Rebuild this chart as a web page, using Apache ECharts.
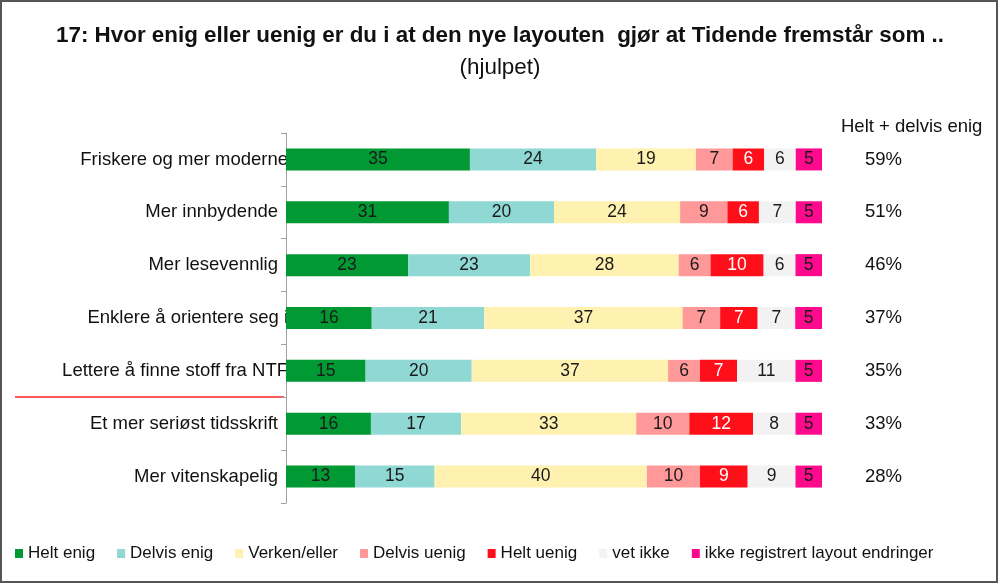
<!DOCTYPE html>
<html><head><meta charset="utf-8">
<script src="https://cdn.jsdelivr.net/npm/echarts@6/dist/echarts.min.js"></script>
<style>html,body{margin:0;padding:0;background:#fff}#c{width:1000px;height:585px}</style>
</head><body><div id="c"></div>
<script>
var categories = ['Friskere og mer moderne','Mer innbydende','Mer lesevennlig','Enklere å orientere seg i','Lettere å finne stoff fra NTF','Et mer seriøst tidsskrift','Mer vitenskapelig'];
var seriesNames = ['Helt enig','Delvis enig','Verken/eller','Delvis uenig','Helt uenig','vet ikke','ikke registrert layout endringer'];
var heltEnig    = [35,31,23,16,15,16,13];
var delvisEnig  = [24,20,23,21,20,17,15];
var verkenEller = [19,24,28,37,37,33,40];
var delvisUenig = [7,9,6,7,6,10,10];
var heltUenig   = [6,6,10,7,7,12,9];
var vetIkke     = [6,7,6,7,11,8,9];
var ikkeReg     = [5,5,5,5,5,5,5];
var heltDelvisEnig = ['59%','51%','46%','37%','35%','33%','28%'];
var colors = ['#009933','#8fd8d4','#fff2b0','#ff9999','#ff0f1a','#f2f2f2','#ff0a8c'];
var labelColors = ['#1a1a1a','#1a1a1a','#1a1a1a','#1a1a1a','#ffffff','#1a1a1a','#1a1a1a'];
var all = [heltEnig,delvisEnig,verkenEller,delvisUenig,heltUenig,vetIkke,ikkeReg];
var sums = categories.map(function(c,i){var s=0;all.forEach(function(a){s+=a[i];});return s;});
var longLabels = {'Friskere og mer moderne':1,'Enklere å orientere seg i':1,'Lettere å finne stoff fra NTF':1};
var FONT = 'Liberation Sans, Arial, sans-serif';
var series = all.map(function(arr,k){
  return {
    name: seriesNames[k], type:'bar', stack:'t', barWidth:22,
    itemStyle:{color:colors[k]},
    label:{show:true, position:'inside', color:labelColors[k], fontSize:17.5, fontFamily:FONT,
      formatter:function(p){return arr[p.dataIndex];}},
    data: arr.map(function(v,i){return {value: v/sums[i]*100};})
  };
});
var chart = echarts.init(document.getElementById('c'));
chart.setOption({
  animation:false,
  textStyle:{fontFamily:FONT},
  title:{text:'17: Hvor enig eller uenig er du i at den nye layouten  gjør at Tidende fremstår som ..',
    subtext:'(hjulpet)', left:'center', top:20, itemGap:10,
    textStyle:{fontSize:22.4, fontWeight:'bold', color:'#111', fontFamily:FONT},
    subtextStyle:{fontSize:22.4, color:'#111', fontFamily:FONT}},
  legend:{left:10, top:540, itemWidth:8, itemHeight:9, itemGap:22, icon:'rect',
    textStyle:{fontSize:17, color:'#111', fontFamily:FONT}, data:seriesNames},
  grid:{left:286, right:178, top:133, bottom:82, containLabel:false},
  xAxis:{type:'value', min:0, max:100, show:false},
  yAxis:[{type:'category', inverse:true, data:categories,
    axisLine:{lineStyle:{color:'#a0a0a0'}},
    axisTick:{show:true, length:5, lineStyle:{color:'#a0a0a0'}},
    axisLabel:{fontSize:18.5, color:'#111', margin:-2, fontFamily:FONT,
      formatter:function(v){return longLabels[v]?'{l|'+v+'}':'{s|'+v+'}';},
      rich:{l:{fontSize:18.5,color:'#111',fontFamily:FONT}, s:{fontSize:18.5,color:'#111',fontFamily:FONT,padding:[0,10,0,0]}}}
  },{type:'category', inverse:true, position:'right', data:heltDelvisEnig,
    axisLine:{show:false}, axisTick:{show:false},
    axisLabel:{fontSize:18.5, color:'#111', margin:43, fontFamily:FONT}
  }],
  graphic:[
    {type:'text', left:841, top:117, style:{text:'Helt + delvis enig', fontSize:18.5, fill:'#111', fontFamily:FONT}},
    {type:'line', shape:{x1:15,y1:397,x2:284,y2:397}, style:{stroke:'#ff2020', lineWidth:1.5}},
    {type:'rect', shape:{x:1,y:1,width:996,height:581}, style:{fill:'none', stroke:'#555', lineWidth:2}}
  ],
  series: series
});
</script></body></html>
